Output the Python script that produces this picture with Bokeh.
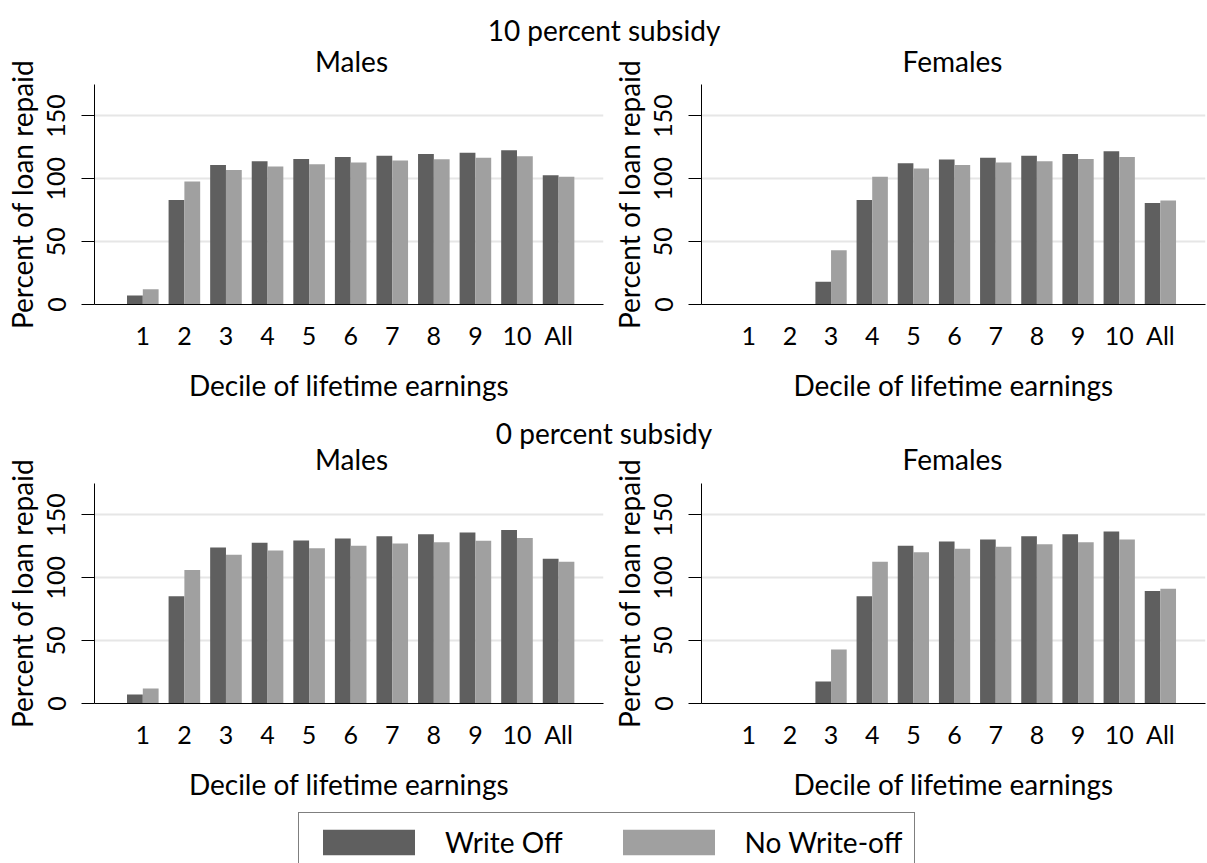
from bokeh.plotting import figure
from bokeh.models import Range1d, FixedTicker, Label, Legend, LegendItem, ColumnDataSource
from bokeh.layouts import column, row
from bokeh.transform import dodge
from bokeh.embed import file_html
from bokeh.resources import INLINE

# ---------------- data ----------------
deciles = ["1", "2", "3", "4", "5", "6", "7", "8", "9", "10", "All"]
y_ticks = [0, 50, 100, 150]

male10_writeoff = [7.2, 83.2, 111.0, 114.0, 115.8, 117.4, 118.4, 119.8, 120.8, 122.7, 102.8]
male10_nowriteoff = [12.2, 97.8, 107.0, 109.7, 111.5, 112.9, 114.5, 115.5, 116.8, 117.9, 101.7]
female10_writeoff = [0.0, 0.0, 18.0, 83.2, 112.4, 115.3, 116.8, 118.4, 119.8, 121.9, 80.8]
female10_nowriteoff = [0.0, 0.0, 43.2, 101.7, 108.1, 111.0, 112.9, 114.0, 115.8, 117.4, 82.7]
male0_writeoff = [7.1, 85.4, 124.1, 127.8, 129.6, 131.2, 133.1, 134.7, 136.0, 138.1, 115.1]
male0_nowriteoff = [11.9, 106.1, 118.3, 121.7, 123.5, 125.4, 127.2, 128.3, 129.4, 131.7, 112.7]
female0_writeoff = [0.0, 0.0, 17.5, 85.4, 125.4, 128.8, 130.4, 133.1, 134.7, 136.8, 89.4]
female0_nowriteoff = [0.0, 0.0, 42.9, 112.7, 120.4, 123.0, 124.6, 126.7, 128.3, 130.4, 91.3]

series_names = ["Write Off", "No Write-off"]
panel_titles = ["Males", "Females"]
subsidy_titles = ["10 percent subsidy", "0 percent subsidy"]

DARK = "#5f5f5f"
LIGHT = "#a0a0a0"
FONT = "Lato"
TOTAL_W = 1207
OVERLAP = 38   # rows reach up into the header strip (transparent border) for the long y label

xpos = list(range(1, len(deciles) + 1))


def panel(wo, nw, left_b, frame_w, right_b, bottom_b, x_start):
    frame_h = 220
    p = figure(width=left_b + frame_w + right_b, height=OVERLAP + frame_h + bottom_b,
               x_range=Range1d(x_start, x_start + 12.243), y_range=Range1d(0, 175),
               output_backend="svg", toolbar_location=None, title=None,
               min_border_left=left_b, min_border_right=right_b,
               min_border_top=OVERLAP, min_border_bottom=bottom_b)
    p.outline_line_color = None
    p.background_fill_color = "white"
    p.border_fill_color = None
    src = ColumnDataSource(dict(x=xpos, wo=wo, nw=nw))
    p.vbar(x=dodge("x", -0.19, range=p.x_range), top="wo", width=0.38, source=src,
           fill_color=DARK, line_color=None)
    p.vbar(x=dodge("x", 0.19, range=p.x_range), top="nw", width=0.38, source=src,
           fill_color=LIGHT, line_color=None)

    xa = p.xaxis[0]
    xa.ticker = FixedTicker(ticks=xpos)
    xa.major_label_overrides = {x: lab for x, lab in zip(xpos, deciles)}
    xa.major_tick_line_color = None
    xa.minor_tick_line_color = None
    xa.axis_label = "Decile of lifetime earnings"
    xa.major_label_standoff = 9
    xa.axis_label_standoff = 15

    ya = p.yaxis[0]
    ya.ticker = FixedTicker(ticks=y_ticks)
    ya.major_tick_out = 13
    ya.major_tick_in = 0
    ya.major_tick_line_color = "black"
    ya.minor_tick_line_color = None
    ya.major_label_orientation = "vertical"
    ya.axis_label = "Percent of loan repaid"
    ya.major_label_standoff = 16
    ya.axis_label_standoff = 6

    for ax in (xa, ya):
        ax.axis_line_color = "black"
        ax.axis_line_width = 1
        ax.major_label_text_font = FONT
        ax.major_label_text_font_size = "25px"
        ax.major_label_text_color = "black"
        ax.axis_label_text_font = FONT
        ax.axis_label_text_font_size = "28px"
        ax.axis_label_text_font_style = "normal"
        ax.axis_label_text_color = "black"

    p.xgrid.grid_line_color = None
    p.ygrid.ticker = FixedTicker(ticks=y_ticks)
    p.ygrid.grid_line_color = "#e6e6e6"
    p.ygrid.grid_line_width = 2
    return p


def header(h, entries):
    # entries: (text, x_center_px, y_px_from_bottom)
    p = figure(width=TOTAL_W, height=h, x_range=Range1d(0, TOTAL_W), y_range=Range1d(0, h),
               output_backend="svg", toolbar_location=None, title=None,
               x_axis_location=None, y_axis_location=None, min_border=0)
    p.grid.visible = False
    p.outline_line_color = None
    for text, x, y in entries:
        p.add_layout(Label(x=x, y=y, text=text, text_align="center",
                           text_baseline="alphabetic", text_font=FONT, text_font_size="28px",
                           text_color="black"))
    return p


L_START = -0.162
R_START = -0.147

h1 = header(84, [(subsidy_titles[0], 603.5, 55), (panel_titles[0], 351, 24),
                 (panel_titles[1], 952, 24)])
m10 = panel(male10_writeoff, male10_nowriteoff, 94, 509, 5, 106, L_START)
f10 = panel(female10_writeoff, female10_nowriteoff, 88, 509, 2, 106, R_START)
h2 = header(73, [(subsidy_titles[1], 603.5, 51), (panel_titles[0], 351, 25),
                 (panel_titles[1], 952, 25)])
m0 = panel(male0_writeoff, male0_nowriteoff, 94, 509, 5, 103, L_START)
f0 = panel(female0_writeoff, female0_nowriteoff, 88, 509, 2, 103, R_START)

# legend strip: zero-height bar renderers only provide the legend swatch styles
lg = figure(width=TOTAL_W, height=57, x_range=Range1d(0, 12), y_range=Range1d(0, 1),
            output_backend="svg", toolbar_location=None, title=None,
            x_axis_location=None, y_axis_location=None, min_border=0)
lg.grid.visible = False
lg.outline_line_color = None
lg.background_fill_color = "white"
lg.border_fill_color = "white"
lsrc = ColumnDataSource(dict(x=xpos))
r_dark = lg.vbar(x="x", top=0, bottom=0, width=0.38, source=lsrc,
                 fill_color=DARK, line_color=None)
r_light = lg.vbar(x="x", top=0, bottom=0, width=0.38, source=lsrc,
                  fill_color=LIGHT, line_color=None)
legend = Legend(items=[LegendItem(label=series_names[0], renderers=[r_dark]),
                       LegendItem(label=series_names[1], renderers=[r_light])],
                orientation="horizontal", location=(298, -9),
                glyph_width=115, glyph_height=32, label_standoff=19, spacing=48,
                padding=12, margin=0, border_line_color="black", border_line_width=1,
                label_text_font=FONT, label_text_font_size="28px", label_text_color="black",
                background_fill_color="white", background_fill_alpha=1)
lg.add_layout(legend)

row1 = row(m10, f10, margin=(-OVERLAP, 0, 0, 0))
row2 = row(m0, f0, margin=(-OVERLAP, 0, 0, 0))
layout = column(h1, row1, h2, row2, lg)

with open("out.html", "w") as f:
    f.write(file_html(layout, INLINE))
